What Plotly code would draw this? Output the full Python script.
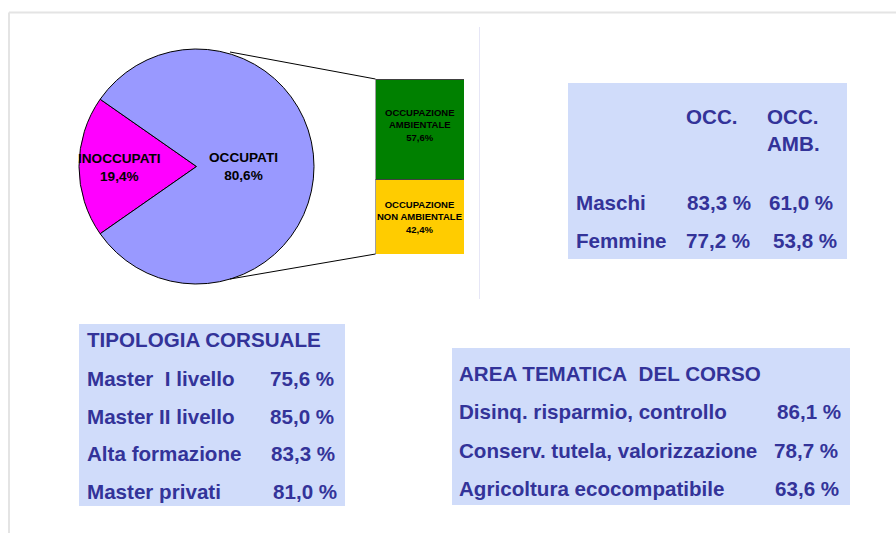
import plotly.graph_objects as go

W, H = 896, 533

# ---------------- data ----------------
pie_labels = ["INOCCUPATI", "OCCUPATI"]
pie_values = [19.4, 80.6]
pie_colors = ["#FF00FF", "#9999FF"]

bar_labels = ["OCCUPAZIONE<br>NON AMBIENTALE", "OCCUPAZIONE<br>AMBIENTALE"]
bar_values = [42.4, 57.6]
bar_colors = ["#FFCC00", "#008000"]

gender_headers = ["OCC.", "OCC.<br>AMB."]
gender_rows = ["Maschi", "Femmine"]
gender_occ = ["83,3 %", "77,2 %"]
gender_amb = ["61,0 %", "53,8 %"]

tipo_title = "TIPOLOGIA CORSUALE"
tipo_rows = ["Master\u00a0\u00a0I livello", "Master II livello", "Alta formazione", "Master privati"]
tipo_vals = ["75,6 %", "85,0 %", "83,3 %", "81,0 %"]

area_title = "AREA TEMATICA\u00a0\u00a0DEL CORSO"
area_rows = ["Disinq. risparmio, controllo", "Conserv. tutela, valorizzazione", "Agricoltura ecocompatibile"]
area_vals = ["86,1 %", "78,7 %", "63,6 %"]

# ---------------- helpers ----------------
def px(x):
    return x / W

def py(y):
    return 1 - y / H

def pct(v):
    return ("%.1f" % v).replace(".", ",") + "%"

FONT = "Liberation Sans, Arial, sans-serif"
NAVY = "#333399"
BOXFILL = "#D0DCFA"
FS = 20.6

fig = go.Figure()

# Pie
rot = 270 - 360 * pie_values[0] / sum(pie_values) / 2
fig.add_trace(go.Pie(
    labels=pie_labels, values=pie_values, sort=False, direction="clockwise",
    rotation=rot, marker=dict(colors=pie_colors, line=dict(color="#000000", width=1)),
    textinfo="none", hoverinfo="label+percent", showlegend=False,
    domain=dict(x=[px(77), px(316)], y=[py(284), py(49)]),
))

# Stacked bar (bar of pie)
for lab, val, col in zip(bar_labels, bar_values, bar_colors):
    fig.add_trace(go.Bar(
        x=["occ"], y=[val], width=[1], marker=dict(color=col, line=dict(color="#404040", width=1)),
        showlegend=False, hovertext=[lab.replace("<br>", " ") + " " + pct(val)], hoverinfo="text",
    ))

fig.update_layout(
    barmode="stack",
    xaxis=dict(domain=[px(375.5), px(464)], range=[-0.5, 0.5], visible=False, fixedrange=True),
    yaxis=dict(domain=[py(254), py(79)], range=[0, 100], visible=False, fixedrange=True),
)

shapes = []
# frame lines
shapes.append(dict(type="line", xref="paper", yref="paper", x0=px(9), x1=px(W), y0=py(12.5), y1=py(12.5),
                   line=dict(color="#E4E4E4", width=2)))
shapes.append(dict(type="line", xref="paper", yref="paper", x0=px(9), x1=px(9), y0=py(12.5), y1=py(H),
                   line=dict(color="#E4E4E4", width=2)))
shapes.append(dict(type="line", xref="paper", yref="paper", x0=px(479.5), x1=px(479.5), y0=py(27), y1=py(299),
                   line=dict(color="#E6E6F6", width=1)))
# connector lines
shapes.append(dict(type="line", xref="paper", yref="paper", x0=px(230), y0=py(52), x1=px(375.5), y1=py(79),
                   line=dict(color="#000000", width=1)))
shapes.append(dict(type="line", xref="paper", yref="paper", x0=px(230), y0=py(279), x1=px(375.5), y1=py(254),
                   line=dict(color="#000000", width=1)))
# boxes
for (x0, y0, x1, y1) in [(568, 83, 847, 259), (79, 324, 345, 506), (452, 348, 850, 505)]:
    shapes.append(dict(type="rect", xref="paper", yref="paper", x0=px(x0), x1=px(x1), y0=py(y1), y1=py(y0),
                       line=dict(width=0), fillcolor=BOXFILL, layer="below"))
fig.update_layout(shapes=shapes)

ann = []

def txt(x, y, s, size=FS, color=NAVY, xanchor="left", yanchor="middle"):
    ann.append(dict(x=px(x), y=py(y), xref="paper", yref="paper", text="<b>%s</b>" % s, showarrow=False,
                    xanchor=xanchor, yanchor=yanchor, align="left", borderpad=0, borderwidth=0,
                    font=dict(family=FONT, size=size, color=color)))

# bar segment labels, placed at segment midpoints on the bar's axes
base = 0
for i, (lab, val) in enumerate(zip(bar_labels, bar_values)):
    mid = base + val / 2
    base += val
    ann.append(dict(x="occ", y=mid, xref="x", yref="y", text="<b>%s<br>%s</b>" % (lab, pct(val)),
                    showarrow=False, xanchor="center", yanchor="middle", align="center",
                    borderpad=0, borderwidth=0, yshift=(4 if i == 1 else 0),
                    font=dict(family=FONT, size=9.5, color="#000000")))

# pie labels
pie_pos = [(119, 167.5), (244, 166.5)]
for (x, y), lab, val in zip(pie_pos, pie_labels, pie_values):
    ann.append(dict(x=px(x), y=py(y), xref="paper", yref="paper",
                    text="<b>%s<br>%s</b>" % (lab, pct(val)),
                    showarrow=False, xanchor="center", yanchor="middle", align="center",
                    borderpad=0, borderwidth=0,
                    font=dict(family=FONT, size=13.6, color="#000000")))

# gender box
txt(686, 105, gender_headers[0], yanchor="top")
txt(767, 105, gender_headers[1], yanchor="top")
g_y = [202.5, 240]
g_occ_x = [687, 685.5]
g_amb_x = [769, 772.5]
for i in range(2):
    txt(576, g_y[i], gender_rows[i])
    txt(g_occ_x[i], g_y[i], gender_occ[i])
    txt(g_amb_x[i], g_y[i], gender_amb[i])

# tipologia box
txt(87, 339, tipo_title)
t_y = [378.5, 416, 453.5, 491.5]
t_vx = [270, 270, 271, 273]
for i in range(4):
    txt(87, t_y[i], tipo_rows[i])
    txt(t_vx[i], t_y[i], tipo_vals[i])

# area box
txt(458.5, 373.5, area_title)
a_y = [411.5, 450, 488]
a_vx = [776.5, 773.5, 774.5]
for i in range(3):
    txt(458.5, a_y[i], area_rows[i])
    txt(a_vx[i], a_y[i], area_vals[i])

fig.update_layout(
    annotations=ann,
    width=W, height=H, autosize=False,
    margin=dict(l=0, r=0, t=0, b=0, pad=0),
    paper_bgcolor="#FFFFFF", plot_bgcolor="rgba(0,0,0,0)",
    font=dict(family=FONT),
)

fig.write_html("out.html", config={"displayModeBar": False},
               post_script="document.body.style.margin='0';")
